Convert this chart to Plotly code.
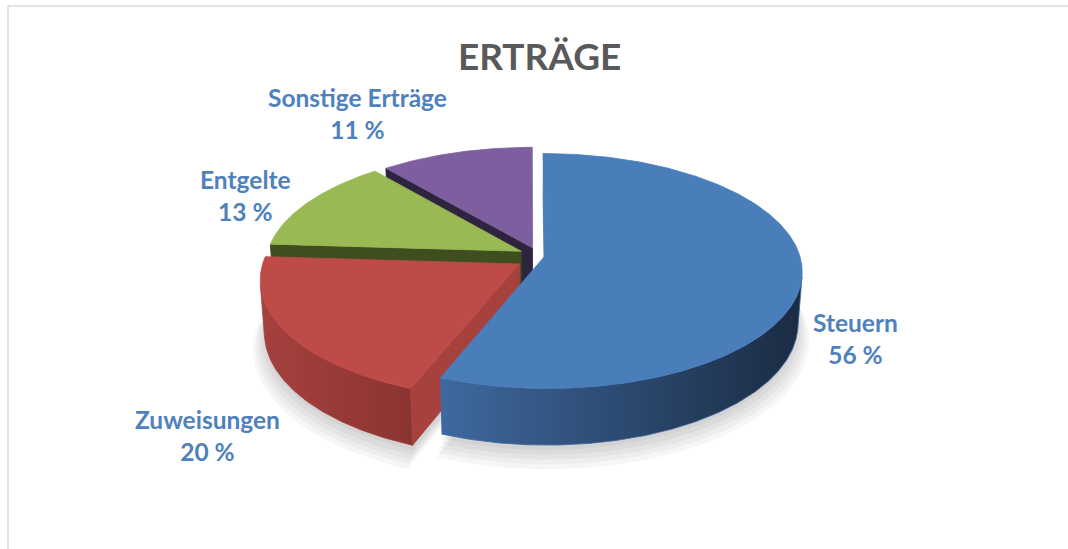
import numpy as np
import plotly.graph_objects as go

# ---------------- data ----------------
categories = ["Steuern", "Zuweisungen", "Entgelte", "Sonstige Erträge"]
values = [56, 20, 13, 11]
title_text = "ERTRÄGE"

# ---------------- style ----------------
top_colors = ["#4A7EBB", "#BE4B48", "#98B954", "#7D5FA0"]
wall_grad = [("#3E699F", "#1B2B42"), ("#A5413E", "#8A3431"), ("#4A5C25", "#4A5C25"), ("#2F2540", "#2F2540")]
face_colors = ["#4679B5", "#A6413E", "#3F4E1E", "#2E2440"]
# slice displacement (explosion) in pie-plane units: (right, back)
shift = [(0.059, 0.011), (-0.04, -0.06), (-0.035, 0.05), (0.01, 0.08)]
label_pos = [(855, 338), (207, 435), (245, 195), (357, 113)]
label_color = "#4F81BD"

W, Hpx = 1068, 549
CX, CY = 530, 257
ALPHA = np.radians(27)
DIST = 6.86
FOC = 1750
DEPTH = 0.23
SA, CA = np.sin(ALPHA), np.cos(ALPHA)


def proj(u, v, z):
    u = np.asarray(u, float); v = np.asarray(v, float); z = np.asarray(z, float)
    d = DIST + v * CA - z * SA
    return CX + FOC * u / d, CY - FOC * (v * SA + z * CA) / d


fig = go.Figure()


def poly(xs, ys, fill, line=None, grad=None):
    xs = list(xs) + [xs[0]]
    ys = list(ys) + [ys[0]]
    kw = dict(x=xs, y=ys, mode="lines", fill="toself", hoverinfo="skip", showlegend=False,
              line=dict(width=0.8, color=line or fill), fillcolor=fill)
    if grad is not None:
        kw["fillgradient"] = dict(type="horizontal", colorscale=[[0, grad[0]], [1, grad[1]]])
    fig.add_trace(go.Scatter(**kw))


total = float(sum(values))
fr = np.array(values) / total
starts = np.concatenate([[0], np.cumsum(fr)[:-1]]) * 2 * np.pi
ends = np.cumsum(fr) * 2 * np.pi
offs = shift

# soft shadow
for k in range(5):
    sc = 1.0 + 0.012 * k
    zz = -DEPTH - 0.02 - 0.012 * k
    for i in range(len(values)):
        ou, ov = offs[i]
        th = np.linspace(starts[i], ends[i], 120)
        u = np.concatenate([[ou], ou + sc * np.sin(th)])
        v = np.concatenate([[ov], ov + sc * np.cos(th)])
        xs, ys = proj(u, v, np.full(len(u), zz))
        poly(xs, ys, "rgba(0,0,0,0.035)", line="rgba(0,0,0,0)")

camu, camv = 0.0, -DIST * CA
order = list(range(len(values)))[::-1]
for i in order:
    a, b = starts[i], ends[i]
    ou, ov = offs[i]
    # radial faces
    faces = [(a, np.array([-np.cos(a), np.sin(a)])), (b, np.array([np.cos(b), -np.sin(b)]))]
    for ang, n in faces:
        if n[0] * (camu - ou) + n[1] * (camv - ov) > 1e-6:
            u = [ou, ou + np.sin(ang), ou + np.sin(ang), ou]
            v = [ov, ov + np.cos(ang), ov + np.cos(ang), ov]
            z = [0, 0, -DEPTH, -DEPTH]
            xs, ys = proj(u, v, z)
            poly(xs, ys, face_colors[i])
    # outer wall
    th = np.linspace(a, b, max(8, int((b - a) / np.radians(0.5))))
    vis = (-ou * np.sin(th) - ov * np.cos(th) - 1 - DIST * CA * np.cos(th)) > 0
    idx = np.where(vis)[0]
    if len(idx):
        runs = np.split(idx, np.where(np.diff(idx) != 1)[0] + 1)
        for r in runs:
            t = th[r]
            u1 = ou + np.sin(t); v1 = ov + np.cos(t)
            xt, yt = proj(u1, v1, np.zeros(len(t)))
            xb, yb = proj(u1, v1, np.full(len(t), -DEPTH))
            poly(np.concatenate([xt, xb[::-1]]), np.concatenate([yt, yb[::-1]]),
                 wall_grad[i][0], line=wall_grad[i][0], grad=wall_grad[i])
    # top face
    u = np.concatenate([[ou], ou + np.sin(th)])
    v = np.concatenate([[ov], ov + np.cos(th)])
    xs, ys = proj(u, v, np.zeros(len(u)))
    poly(xs, ys, top_colors[i])

annotations = [dict(x=539, y=55, xref="x", yref="y", text="<b>" + title_text + "</b>", showarrow=False,
                    font=dict(family="Lato", size=37, color="#595959"), xanchor="center", yanchor="middle")]
for cat, val, (lx, ly) in zip(categories, values, label_pos):
    annotations.append(dict(x=lx, y=ly, xref="x", yref="y", showarrow=False,
                            text="<b>%s<br>%d %%</b>" % (cat, val),
                            font=dict(family="Lato", size=24.5, color=label_color),
                            xanchor="center", yanchor="middle", align="center"))

fig.update_layout(
    width=W, height=Hpx, autosize=False,
    margin=dict(l=0, r=0, t=0, b=0),
    paper_bgcolor="white", plot_bgcolor="white",
    xaxis=dict(range=[0, W], visible=False, fixedrange=True),
    yaxis=dict(range=[Hpx, 0], visible=False, fixedrange=True),
    annotations=annotations,
    shapes=[dict(type="rect", xref="x", yref="y", x0=8, y0=6, x1=W + 40, y1=Hpx + 40,
                 line=dict(color="#D9D9D9", width=1.5), fillcolor="rgba(0,0,0,0)", layer="above")],
)

fig.write_html("out.html", config={"displayModeBar": False},
               post_script="document.body.style.margin='0';document.body.style.overflow='hidden';")
